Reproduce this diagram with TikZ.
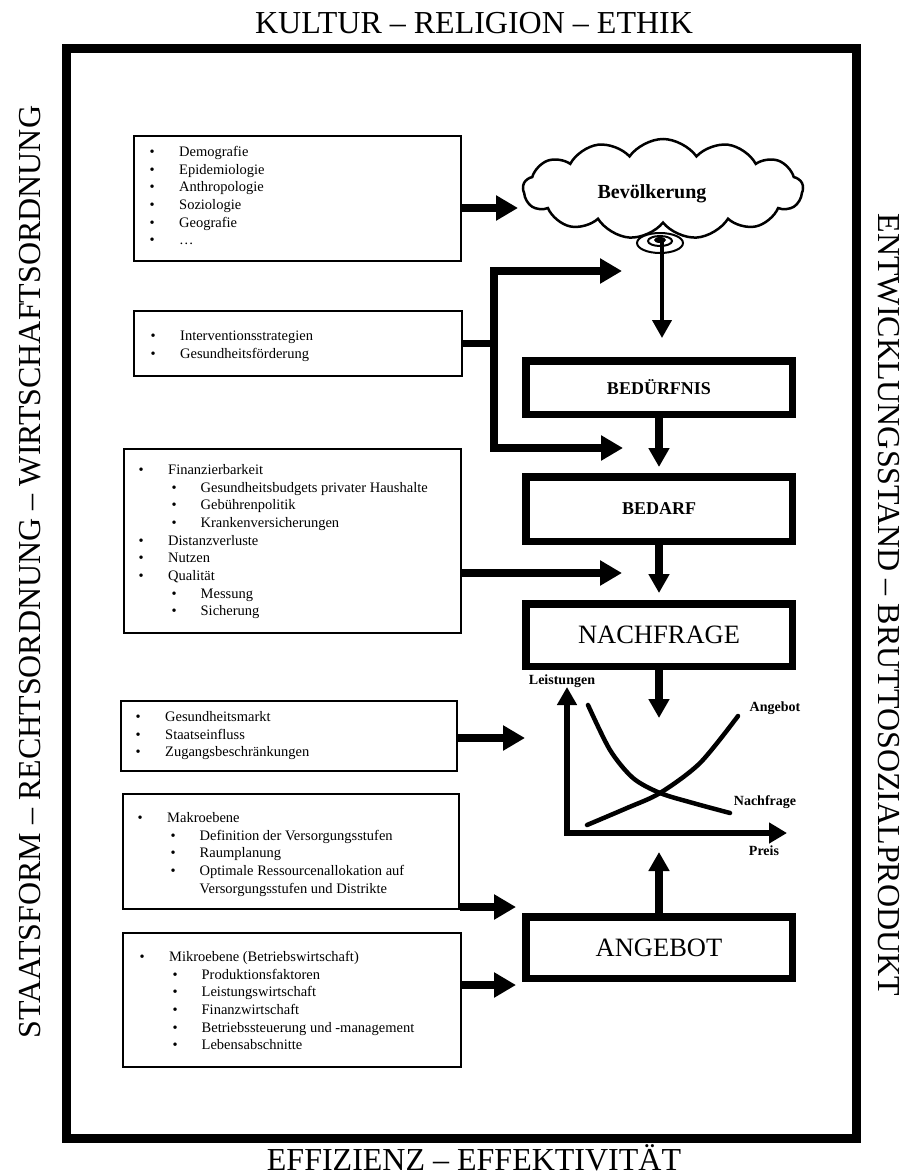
\documentclass[tikz,border=0pt]{standalone}
\usepackage{fontspec}
\setmainfont{Liberation Serif}
\usetikzlibrary{arrows.meta,shapes.symbols}
\newcommand\lsta[1]{\strut\makebox[29.5pt][l]{\textbullet}#1}
\newcommand\lstb[1]{\strut\hspace*{33pt}\makebox[29pt][l]{\textbullet}#1}
\tikzset{
  sidetext/.style={inner sep=0pt, font=\fontsize{32}{36}\selectfont},
  thinbox/.style={draw, rectangle, line width=2pt, inner sep=0pt},
  thickbox/.style={draw, rectangle, line width=7.5pt, inner sep=0pt, minimum width=266.5pt},
  listtext/.style={anchor=north west, inner sep=0pt, align=left, font=\fontsize{14.5}{17.7}\selectfont},
  harrow/.style={line width=7.5pt, line join=miter, -{Triangle[length=22pt,width=24pt]}},
  varrow/.style={line width=7.5pt, -{Triangle[length=19pt,width=20pt]}},
  carrow/.style={line width=4pt, -{Triangle[length=18pt,width=19pt]}},
  axisline/.style={line width=6pt, line join=miter, {Triangle[length=18pt,width=19pt]}-{Triangle[length=18pt,width=20pt]}},
  curve/.style={line width=4.5pt, line cap=round},
  glabel/.style={inner sep=0pt, font=\bfseries\fontsize{14}{16}\selectfont},
}
\begin{document}
\begin{tikzpicture}[x=1pt,y=-1pt]
\useasboundingbox (0,0) rectangle (904,1175);
% outer frame
\draw[line width=9pt] (66,48) rectangle (856,1138);
% frame labels
\node[sidetext, anchor=base] (ttop) at (474,33) {KULTUR – RELIGION – ETHIK};
\node[sidetext, anchor=base] (tbot) at (474,1170) {EFFIZIENZ – EFFEKTIVITÄT};
\node[sidetext, rotate=90] (tleft) at (30,572) {STAATSFORM – RECHTSORDNUNG – WIRTSCHAFTSORDNUNG};
\node[sidetext, rotate=-90] (tright) at (889,605) {ENTWICKLUNGSSTAND – BRUTTOSOZIALPRODUKT};

% list boxes
\node[thinbox, minimum width=327pt, minimum height=125pt] (box1) at (297.5,198.5) {};
\node[listtext] (txt1) at (149.5,143.8) {\lsta{Demografie}\\\lsta{Epidemiologie}\\\lsta{Anthropologie}\\\lsta{Soziologie}\\\lsta{Geografie}\\\lsta{…}};

\node[thinbox, minimum width=328pt, minimum height=65pt] (box2) at (298,343.5) {};
\node[listtext] (txt2) at (150.5,327.8) {\lsta{Interventionsstrategien}\\\lsta{Gesundheitsförderung}};

\node[thinbox, minimum width=337pt, minimum height=184pt] (box3) at (292.5,541) {};
\node[listtext] (txt3) at (138.5,461.8) {\lsta{Finanzierbarkeit}\\\lstb{Gesundheitsbudgets privater Haushalte}\\\lstb{Gebührenpolitik}\\\lstb{Krankenversicherungen}\\\lsta{Distanzverluste}\\\lsta{Nutzen}\\\lsta{Qualität}\\\lstb{Messung}\\\lstb{Sicherung}};

\node[thinbox, minimum width=336pt, minimum height=70pt] (box4) at (289,736) {};
\node[listtext] (txt4) at (135.5,708.8) {\lsta{Gesundheitsmarkt}\\\lsta{Staatseinfluss}\\\lsta{Zugangsbeschränkungen}};

\node[thinbox, minimum width=336pt, minimum height=115pt] (box5) at (291,851.5) {};
\node[listtext] (txt5) at (137.5,809.8) {\lsta{Makroebene}\\\lstb{Definition der Versorgungsstufen}\\\lstb{Raumplanung}\\\lstb{Optimale Ressourcenallokation auf}\\\strut\hspace*{62pt}Versorgungsstufen und Distrikte};

\node[thinbox, minimum width=338pt, minimum height=134pt] (box6) at (292,1000) {};
\node[listtext] (txt6) at (139.5,948.8) {\lsta{Mikroebene (Betriebswirtschaft)}\\\lstb{Produktionsfaktoren}\\\lstb{Leistungswirtschaft}\\\lstb{Finanzwirtschaft}\\\lstb{Betriebssteuerung und -management}\\\lstb{Lebensabschnitte}};

% cloud
\node[cloud, draw, line width=2.5pt, cloud puffs=13, cloud puff arc=110, aspect=2.8, minimum width=280pt, minimum height=100pt] (cloud) at (663,189) {};
\node[inner sep=0pt, font=\bfseries\fontsize{20}{22}\selectfont] (bev) at (652,194) {Bevölkerung};
\draw[line width=2pt, fill=white] (660,243) ellipse [x radius=23, y radius=10];
\draw[line width=2pt] (660,241) ellipse [x radius=12, y radius=5];
\fill (660,240) ellipse [x radius=6, y radius=3];
\coordinate (ctip) at (662,241);

% main boxes
\node[thickbox, minimum height=53.5pt, font=\bfseries\fontsize{18}{20}\selectfont] (bed) at (659,387.5) {BEDÜRFNIS};
\node[thickbox, minimum height=64.5pt, font=\bfseries\fontsize{18}{20}\selectfont] (bedarf) at (659,509) {BEDARF};
\node[thickbox, minimum height=62.5pt, font=\fontsize{26.5}{28}\selectfont] (nach) at (659,635) {NACHFRAGE};
\node[thickbox, minimum height=61.5pt, font=\fontsize{26.5}{28}\selectfont] (ang) at (659,947.5) {ANGEBOT};

% arrows
\coordinate (a1) at (518,208);
\draw[harrow] (box1.east |- a1) -- (a1);
\coordinate (sp) at (494,343.5);
\coordinate (t1) at (622,271);
\coordinate (t2) at (623,448);
\draw[line width=7.5pt] (box2.east) -- (sp);
\draw[harrow] (sp) |- (t1);
\draw[harrow] (sp) |- (t2);
\coordinate (a3) at (622,573);
\draw[harrow] (box3.east |- a3) -- (a3);
\coordinate (a4) at (525,738);
\draw[harrow] (box4.east |- a4) -- (a4);
\coordinate (a5) at (516,907);
\draw[harrow] (box5.east |- a5) -- (a5);
\coordinate (a6) at (516,985);
\draw[harrow] (box6.east |- a6) -- (a6);

\draw[carrow, shorten >=19pt] (ctip) -- (ctip |- bed.north);
\draw[varrow, shorten >=6pt] (bed.south) -- (bedarf.north);
\draw[varrow, shorten >=7pt] (bedarf.south) -- (nach.north);
\coordinate (d1) at (659,718);
\draw[varrow] (nach.south) -- (d1);
\coordinate (u1) at (659,852);
\draw[varrow] (ang.north) -- (u1);

% graph
\coordinate (gO) at (567,833);
\coordinate (gY) at (567,687);
\coordinate (gX) at (787,833);
\draw[axisline] (gY) -- (gO) -- (gX);
\draw[curve] plot[smooth] coordinates {(588,705) (610,750) (633,778) (660,793) (693,803) (730,813)};
\draw[curve] plot[smooth] coordinates {(587,825) (627,808) (660,793) (700,763) (738,716)};
\node[glabel] (lleist) at (562,681) {Leistungen};
\node[glabel] (lang) at (775,708) {Angebot};
\node[glabel] (lnach) at (765,802) {Nachfrage};
\node[glabel] (lpreis) at (764,851) {Preis};
\end{tikzpicture}
\end{document}
